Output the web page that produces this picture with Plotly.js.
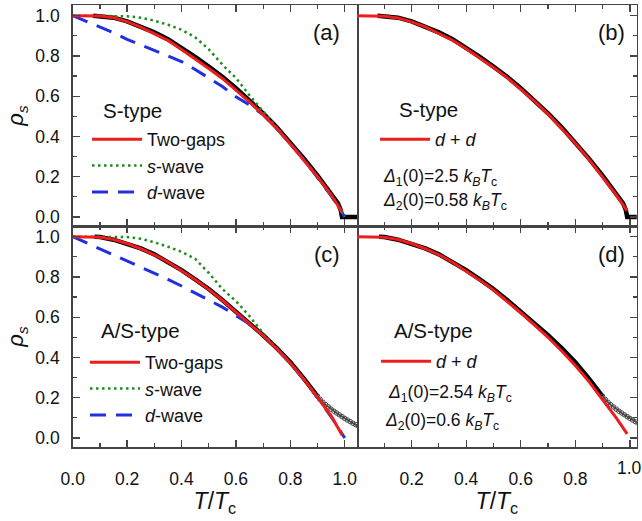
<!DOCTYPE html>
<html>
<head>
<meta charset="utf-8">
<script src="https://cdn.plot.ly/plotly-3.0.1.min.js"></script>
<style>html,body{margin:0;padding:0;background:#fff;}#chart{width:642px;height:521px;}</style>
</head>
<body>
<div id="chart"></div>
<script>
// ---- S-type measured data (panels a, b)
const xS_data = [0.075, 0.1, 0.15, 0.2, 0.25, 0.3, 0.35, 0.4, 0.45, 0.5, 0.55, 0.6, 0.65, 0.7, 0.75, 0.8, 0.85, 0.9, 0.95, 0.975, 0.985, 0.99, 1.0, 1.02, 1.04, 1.06];
const yS_data = [1.0, 0.998, 0.99, 0.972, 0.947, 0.917, 0.883, 0.84, 0.795, 0.747, 0.697, 0.64, 0.58, 0.515, 0.445, 0.37, 0.29, 0.205, 0.115, 0.068, 0.035, 0.0, 0.0, 0.0, 0.0, 0.0];
// ---- A/S-type measured data (panels c, d)
const xAS_data = [0.08, 0.1, 0.15, 0.2, 0.25, 0.3, 0.35, 0.4, 0.45, 0.5, 0.55, 0.6, 0.65, 0.7, 0.75, 0.8, 0.85, 0.9];
const yAS_data = [1.0, 0.998, 0.985, 0.966, 0.942, 0.912, 0.876, 0.834, 0.788, 0.74, 0.685, 0.627, 0.57, 0.51, 0.446, 0.376, 0.295, 0.207];
const xAS_tail = [0.9, 0.91, 0.92, 0.93, 0.94, 0.95, 0.96, 0.97, 0.98, 0.99, 1.0, 1.01, 1.02, 1.03, 1.04, 1.05, 1.06];
const yAS_tail = [0.207, 0.191, 0.177, 0.165, 0.154, 0.143, 0.133, 0.124, 0.115, 0.106, 0.097, 0.089, 0.081, 0.073, 0.066, 0.059, 0.053];

// ---- model curves
const xModel = [0, 0.05, 0.1, 0.15, 0.2, 0.25, 0.3, 0.35, 0.4, 0.45, 0.5, 0.55, 0.6, 0.65, 0.7, 0.75, 0.8, 0.85, 0.9, 0.95, 0.99];
const xWave = [0, 0.05, 0.1, 0.15, 0.2, 0.25, 0.3, 0.35, 0.4, 0.45, 0.5, 0.55, 0.6, 0.65, 0.7, 0.75, 0.8, 0.85, 0.9, 0.95, 1.0];
// panel (a)
const yA_twoGaps = [1.0, 1.0, 0.998, 0.99, 0.97, 0.943, 0.912, 0.877, 0.832, 0.786, 0.737, 0.688, 0.632, 0.572, 0.508, 0.44, 0.362, 0.283, 0.2, 0.11, 0.025];
const yA_sWave = [1.0, 1.0, 1.0, 1.0, 0.997, 0.99, 0.975, 0.955, 0.93, 0.893, 0.833, 0.757, 0.69, 0.604, 0.525, 0.447, 0.367, 0.285, 0.2, 0.105, 0.0];
const yA_dWave = [1.0, 0.972, 0.945, 0.915, 0.882, 0.855, 0.829, 0.8, 0.772, 0.733, 0.69, 0.648, 0.597, 0.556, 0.508, 0.44, 0.367, 0.285, 0.198, 0.105, 0.0];
// panel (b)
const yB_dd = [1.0, 1.0, 0.997, 0.988, 0.969, 0.944, 0.913, 0.878, 0.836, 0.791, 0.743, 0.692, 0.636, 0.576, 0.511, 0.441, 0.366, 0.286, 0.2, 0.11, 0.03];
// panel (c)
const yC_twoGaps = [1.0, 1.0, 0.997, 0.986, 0.966, 0.94, 0.91, 0.874, 0.832, 0.787, 0.738, 0.684, 0.625, 0.567, 0.508, 0.443, 0.372, 0.292, 0.203, 0.11, 0.015];
const yC_sWave = [1.0, 1.0, 1.0, 1.0, 0.998, 0.99, 0.972, 0.95, 0.925, 0.89, 0.82, 0.74, 0.68, 0.605, 0.52, 0.445, 0.37, 0.29, 0.2, 0.105, 0.0];
const yC_dWave = [1.0, 0.97, 0.939, 0.909, 0.879, 0.85, 0.82, 0.788, 0.755, 0.722, 0.685, 0.65, 0.608, 0.566, 0.51, 0.445, 0.372, 0.29, 0.2, 0.105, 0.0];
// panel (d)
const yD_dd = [1.0, 1.0, 0.997, 0.986, 0.966, 0.94, 0.91, 0.873, 0.83, 0.784, 0.735, 0.68, 0.622, 0.562, 0.5, 0.432, 0.36, 0.28, 0.19, 0.1, 0.02];

// ---- ticks and labels
const xTicks = [0, 0.2, 0.4, 0.6, 0.8, 1.0];
const xTicksRight = [0.2, 0.4, 0.6, 0.8, 1.0];
const yTicks = [0, 0.2, 0.4, 0.6, 0.8, 1.0];
const panelLabels = ['(a)', '(b)', '(c)', '(d)'];
const sampleTypes = ['S-type', 'S-type', 'A/S-type', 'A/S-type'];

const RED = '#ee1c1c', GREEN = '#1e8c1e', BLUE = '#2030e0', BLACK = '#000000';
const FONT = 'Liberation Sans, Arial, Helvetica, sans-serif';

function dataTrace(x, y, xa, ya) {
  return {x, y, xaxis: xa, yaxis: ya, mode: 'lines', line: {color: BLACK, width: 4.5}, showlegend: false, hoverinfo: 'skip'};
}
function tailTrace(x, y, xa, ya) {
  return {x, y, xaxis: xa, yaxis: ya, mode: 'lines+markers', line: {color: '#555', width: 2},
    marker: {symbol: 'circle-open', size: 4.5, color: '#444', line: {width: 1}}, showlegend: false, hoverinfo: 'skip'};
}
function model(x, y, xa, ya, name, color, dash, legend, rank, width) {
  return {x, y, xaxis: xa, yaxis: ya, mode: 'lines', name, legend, legendrank: rank,
    line: {color, width: width || 3, dash}, hoverinfo: 'skip'};
}

const traces = [
  // (a)
  dataTrace(xS_data, yS_data, 'x', 'y'),
  model(xWave, yA_dWave, 'x', 'y', '<i>d</i>-wave', BLUE, '16px,10px', 'legend', 3, 3),
  model(xWave, yA_sWave, 'x', 'y', '<i>s</i>-wave', GREEN, '2.5px,3.5px', 'legend', 2, 2.5),
  model(xModel, yA_twoGaps, 'x', 'y', 'Two-gaps', RED, 'solid', 'legend', 1, 3),
  // (b)
  dataTrace(xS_data, yS_data, 'x2', 'y2'),
  model(xModel, yB_dd, 'x2', 'y2', '<i>d</i> + <i>d</i>', RED, 'solid', 'legend2', 1, 3),
  // (c)
  dataTrace(xAS_data, yAS_data, 'x3', 'y3'),
  tailTrace(xAS_tail, yAS_tail, 'x3', 'y3'),
  model(xWave, yC_dWave, 'x3', 'y3', '<i>d</i>-wave', BLUE, '16px,10px', 'legend3', 3, 3),
  model(xWave, yC_sWave, 'x3', 'y3', '<i>s</i>-wave', GREEN, '2.5px,3.5px', 'legend3', 2, 2.5),
  model(xModel, yC_twoGaps, 'x3', 'y3', 'Two-gaps', RED, 'solid', 'legend3', 1, 3),
  // (d)
  dataTrace(xAS_data, yAS_data, 'x4', 'y4'),
  tailTrace(xAS_tail, yAS_tail, 'x4', 'y4'),
  model(xModel, yD_dd, 'x4', 'y4', '<i>d</i> + <i>d</i>', RED, 'solid', 'legend4', 1, 3)
];

const AX = '#444';
const W = 642, H = 521;
const xL = [72.7 / W, 357 / W], xR = [357 / W, 636.7 / W];
const yTop = [1 - 226 / H, 1 - 5 / H], yBot = [1 - 447 / H, 1 - 226 / H];
const tickFont = {family: FONT, size: 17.5, color: '#111'};

function xaxis(domain, anchor, range, showLabels, tickvals, ticktext) {
  return {domain, anchor, range, showline: true, linecolor: AX, linewidth: 1.5, mirror: 'ticks',
    ticks: 'inside', ticklen: 7, tickwidth: 1.3, tickcolor: AX,
    tickvals: tickvals, ticktext: ticktext || tickvals.map(v => v.toFixed(1)),
    minor: {ticks: 'inside', ticklen: 4, tickwidth: 1.2, tickcolor: AX, dtick: 0.1, tick0: 0, showgrid: false},
    showticklabels: showLabels, tickfont: tickFont,
    showgrid: false, zeroline: false, automargin: false,
    ticklabelstandoff: 15};
}
function yaxis(domain, anchor, side, showLabels, mirror) {
  return {domain, anchor, side, range: [-0.045, 1.053], showline: true, linecolor: AX, linewidth: 1.5, mirror: mirror,
    ticks: 'inside', ticklen: 7, tickwidth: 1.3, tickcolor: AX,
    tickvals: yTicks, ticktext: yTicks.map(v => v.toFixed(1)),
    minor: {ticks: 'inside', ticklen: 4, tickwidth: 1.2, tickcolor: AX, dtick: 0.1, tick0: 0, showgrid: false},
    showticklabels: showLabels, tickfont: tickFont, showgrid: false, zeroline: false, automargin: false,
    ticklabelstandoff: 8};
}

// the last label of panel (d) sits at the page edge, so it is written as an annotation
const xTicksRightText = xTicksRight.map(v => (v === 1.0 ? '' : v.toFixed(1)));

const xa = xaxis(xL, 'y', [0, 1.045], false, xTicks);
const xa2 = xaxis(xR, 'y2', [0, 1.025], false, xTicksRight);
const xa3 = xaxis(xL, 'y3', [0, 1.045], true, xTicks);
const xa4 = xaxis(xR, 'y4', [0, 1.025], true, xTicksRight, xTicksRightText);
const xTitle = {text: '<i>T</i>/<i>T</i><sub>c</sub>', font: {family: FONT, size: 23, color: '#111'}, standoff: 5};
xa3.title = xTitle; xa4.title = xTitle;

const ya = yaxis(yTop, 'x', 'left', true, true);
const ya2 = yaxis(yTop, 'x2', 'right', false, false);
const ya3 = yaxis(yBot, 'x3', 'left', true, true);
const ya4 = yaxis(yBot, 'x4', 'right', false, false);
const yTitle = {text: '<i>ρ</i><sub><i>s</i></sub>', font: {family: FONT, size: 22, color: '#111'}, standoff: 5};
ya.title = yTitle; ya3.title = yTitle;

function legendBox(xpx, ypx) {
  return {x: xpx / W, y: 1 - ypx / H, xanchor: 'left', yanchor: 'top', bgcolor: 'rgba(0,0,0,0)', borderwidth: 0,
    font: {family: FONT, size: 18, color: '#111'},
    itemwidth: 50, tracegroupgap: 0, traceorder: 'normal', itemclick: false, itemdoubleclick: false};
}

function ann(xref, yref, x, y, text, size, xanchor) {
  return {xref, yref, x, y, text, showarrow: false, xanchor: xanchor || 'center', yanchor: 'middle',
    font: {family: FONT, size: size, color: '#111'}};
}

const annotations = [
  ann('x', 'y', 0.933, 0.914, panelLabels[0], 22),
  ann('x2', 'y2', 0.933, 0.914, panelLabels[1], 22),
  ann('x3', 'y3', 0.933, 0.909, panelLabels[2], 22),
  ann('x4', 'y4', 0.933, 0.909, panelLabels[3], 22),
  ann('x', 'y', 0.104, 0.527, sampleTypes[0], 20.5, 'left'),
  ann('x2', 'y2', 0.148, 0.532, sampleTypes[1], 20.5, 'left'),
  ann('x3', 'y3', 0.098, 0.535, sampleTypes[2], 20.5, 'left'),
  ann('x4', 'y4', 0.13, 0.535, sampleTypes[3], 20.5, 'left'),
  ann('x2', 'y2', 0.088, 0.195, '<i>Δ</i><sub>1</sub>(0)=2.5 <i>k</i><sub><i>B</i></sub><i>T</i><sub>c</sub>', 17.5, 'left'),
  ann('x2', 'y2', 0.088, 0.076, '<i>Δ</i><sub>2</sub>(0)=0.58 <i>k</i><sub><i>B</i></sub><i>T</i><sub>c</sub>', 17.5, 'left'),
  ann('x4', 'y4', 0.105, 0.222, '<i>Δ</i><sub>1</sub>(0)=2.54 <i>k</i><sub><i>B</i></sub><i>T</i><sub>c</sub>', 17.5, 'left'),
  ann('x4', 'y4', 0.095, 0.083, '<i>Δ</i><sub>2</sub>(0)=0.6 <i>k</i><sub><i>B</i></sub><i>T</i><sub>c</sub>', 17.5, 'left'),
  ann('x4', 'paper', xTicksRight[xTicksRight.length - 1], 1 - 468 / H, xTicksRight[xTicksRight.length - 1].toFixed(1), 17.5)
];

const layout = {
  width: W, height: H, margin: {l: 0, r: 0, t: 0, b: 0, pad: 0},
  paper_bgcolor: '#fff', plot_bgcolor: '#fff',
  font: {family: FONT, color: '#111'},
  xaxis: xa, xaxis2: xa2, xaxis3: xa3, xaxis4: xa4,
  yaxis: ya, yaxis2: ya2, yaxis3: ya3, yaxis4: ya4,
  legend: legendBox(87, 121),
  legend2: legendBox(375, 121),
  legend3: legendBox(85, 344),
  legend4: legendBox(376, 343),
  annotations,
  showlegend: true
};

Plotly.newPlot('chart', traces, layout, {staticPlot: true, displayModeBar: false});
</script>
</body>
</html>
